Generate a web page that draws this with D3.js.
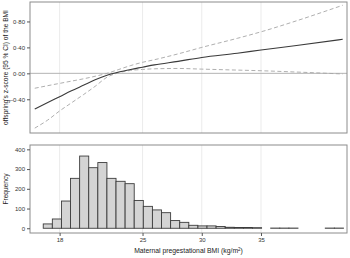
<!DOCTYPE html>
<html><head><meta charset="utf-8">
<script src="https://cdn.jsdelivr.net/npm/d3@7"></script>
<style>body{margin:0;background:#fff}svg{display:block;font-family:"Liberation Sans",Arial,sans-serif}</style>
</head><body><svg id="c" width="350" height="258"></svg>
<script>
// ---- data ----
const bmiGrid   = [15.9, 17, 18, 19, 20, 21, 22, 23, 24, 25, 26, 28, 30, 33, 35, 38, 41.9];
const fitZ      = [-0.55, -0.45, -0.36, -0.27, -0.185, -0.10, -0.03, 0.02, 0.06, 0.095, 0.13, 0.185, 0.245, 0.31, 0.36, 0.43, 0.525];
const upperZ    = [-0.23, -0.19, -0.155, -0.12, -0.085, -0.045, 0.0, 0.06, 0.12, 0.17, 0.21, 0.30, 0.40, 0.54, 0.64, 0.81, 1.05];
const lowerZ    = [-0.845, -0.72, -0.58, -0.455, -0.33, -0.20, -0.06, 0.01, 0.045, 0.06, 0.07, 0.075, 0.065, 0.05, 0.04, 0.02, -0.01];
const binStart  = 15.85;
const binWidth  = 0.768;
const binCounts = [0, 22, 47, 138, 253, 366, 307, 333, 253, 238, 226, 141, 111, 93, 79, 39, 30, 15, 12, 12, 9, 5, 4, 4, 3, 0, 1, 1, 1, null, null, null, 1, 1];
const xTicks    = [18, 25, 30, 35];
const zTicks    = [-0.4, 0, 0.4, 0.8];
const fTicks    = [0, 100, 200, 300, 400];

const svg = d3.select("#c");
const L = 30, R = 347, T1 = 2, B1 = 133, T2 = 145, B2 = 233;
const x = d3.scaleLinear().domain([15.5, 42.26]).range([L, R]);
const y1 = d3.scaleLinear().domain([-0.92, 1.10]).range([B1, T1]);
const y2 = d3.scaleLinear().domain([-24, 422]).range([B2, T2]);
const fmtZ = v => (v < 0 ? "\u2013" : "") + Math.abs(v).toFixed(2).replace(".", "\u00b7");

function panel(top, bottom) {
  const g = svg.append("g");
  g.selectAll("line.grid").data(xTicks).join("line")
    .attr("x1", d => x(d)).attr("x2", d => x(d)).attr("y1", top).attr("y2", bottom)
    .attr("stroke", "#e6e6e6").attr("stroke-width", 0.8);
  return g;
}
// top panel
const g1 = panel(T1, B1);
g1.append("line").attr("x1", L).attr("x2", R).attr("y1", y1(0)).attr("y2", y1(0))
  .attr("stroke", "#aaa").attr("stroke-width", 0.9);
const pts = (arr) => bmiGrid.map((b, i) => [b, arr[i]]);
const line = d3.line().x(d => x(d[0])).y(d => y1(d[1])).curve(d3.curveMonotoneX);
[upperZ, lowerZ].forEach(a => g1.append("path").attr("d", line(pts(a))).attr("fill", "none")
  .attr("stroke", "#a6a6a6").attr("stroke-width", 0.9).attr("stroke-dasharray", "4,2.5"));
g1.append("path").attr("d", line(pts(fitZ))).attr("fill", "none").attr("stroke", "#3a3a3a").attr("stroke-width", 1.1);
svg.append("rect").attr("x", L).attr("y", T1).attr("width", R - L).attr("height", B1 - T1)
  .attr("fill", "none").attr("stroke", "#8c8c8c").attr("stroke-width", 1);
const ay1 = svg.append("g").attr("transform", `translate(${L},0)`)
  .call(d3.axisLeft(y1).tickValues(zTicks).tickFormat(fmtZ).tickSize(3).tickPadding(2));
// bottom panel
const g2 = panel(T2, B2);
const bins = binCounts.map((c, i) => ({x0: binStart + i * binWidth, x1: binStart + (i + 1) * binWidth, c}))
  .filter(d => d.c !== null);
g2.selectAll("rect.bar").data(bins).join("rect")
  .attr("x", d => x(d.x0)).attr("width", d => x(d.x1) - x(d.x0))
  .attr("y", d => y2(d.c)).attr("height", d => y2(0) - y2(d.c))
  .attr("fill", "#d4d4d4").attr("stroke", "#3c3c3c").attr("stroke-width", 0.9);
svg.append("rect").attr("x", L).attr("y", T2).attr("width", R - L).attr("height", B2 - T2)
  .attr("fill", "none").attr("stroke", "#8c8c8c").attr("stroke-width", 1);
const ay2 = svg.append("g").attr("transform", `translate(${L},0)`)
  .call(d3.axisLeft(y2).tickValues(fTicks).tickSize(3).tickPadding(2));
const ax = svg.append("g").attr("transform", `translate(0,${B2})`)
  .call(d3.axisBottom(x).tickValues(xTicks).tickSize(3).tickPadding(2));
[ay1, ay2, ax].forEach(a => {
  a.select(".domain").remove();
  a.selectAll(".tick line").attr("stroke", "#555");
  a.selectAll(".tick text").attr("fill", "#333").style("font-size", "6px");
});
svg.append("text").attr("transform", `translate(6,${(T1 + B1) / 2}) rotate(-90)`)
  .attr("text-anchor", "middle").attr("dy", "0.35em").style("font-size", "6.6px").attr("fill", "#222")
  .text("offspring's z-score (95 % CI) of the BMI");
svg.append("text").attr("transform", `translate(6,${(T2 + B2) / 2}) rotate(-90)`)
  .attr("text-anchor", "middle").attr("dy", "0.35em").style("font-size", "6.6px").attr("fill", "#222")
  .text("Frequency");
const xt = svg.append("text").attr("x", (L + R) / 2).attr("y", 253).attr("text-anchor", "middle")
  .style("font-size", "6.8px").attr("fill", "#222");
xt.append("tspan").text("Maternal pregestational BMI (kg/m");
xt.append("tspan").attr("dy", -2.5).style("font-size", "4.5px").text("2");
xt.append("tspan").attr("dy", 2.5).text(")");
</script></body></html>
